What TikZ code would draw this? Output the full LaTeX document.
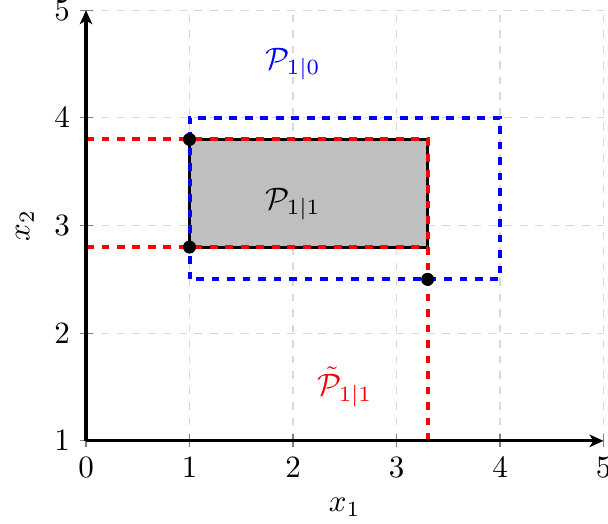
\documentclass[tikz,border=0pt]{standalone}
\usetikzlibrary{arrows.meta}
\begin{document}
\begin{tikzpicture}[x=33.4pt,y=34.74pt,
  gridline/.style={gray!30, line width=0.4pt, dash pattern=on 2.5pt off 2.5pt},
  axisline/.style={black, line width=1pt, -{Stealth[length=4.5pt,width=4pt,inset=1.2pt]}},
  tickmark/.style={gray, line width=0.4pt},
  bluebox/.style={blue, line width=1.3pt, dash pattern=on 2.5pt off 2.5pt},
  redline/.style={red, line width=1.3pt, dash pattern=on 2.5pt off 2.5pt},
  setbox/.style={fill=gray!50, draw=black, line width=1pt},
  dot/.style={circle, fill=black, inner sep=0pt, minimum size=4.2pt}]
\useasboundingbox (-0.831,0.229) rectangle (5.043,5.095);
% grid
\foreach \x in {1,...,5} \draw[gridline] (\x,1) -- (\x,5);
\foreach \y in {2,...,5} \draw[gridline] (0,\y) -- (5,\y);
% ticks
\foreach \x in {0,...,5} \draw[tickmark] ([yshift=-2.1pt]\x,1) -- ([yshift=2.1pt]\x,1);
\foreach \y in {1,...,5} \draw[tickmark] ([xshift=-2.1pt]0,\y) -- ([xshift=2.1pt]0,\y);
% tick labels
\foreach \x in {0,...,5} \node (xl\x) at (\x,0.75) {$\x$};
\foreach \y in {1,...,5} \node (yl\y) at (-0.232,\y) {$\y$};
% key points
\coordinate (O) at (0,1);
\coordinate (XE) at (5,1);
\coordinate (YE) at (0,5);
\coordinate (A) at (1,3.8);
\coordinate (B) at (1,2.8);
\coordinate (C) at (3.3,2.5);
\coordinate (D) at (3.3,3.8);
\coordinate (E) at (3.3,2.8);
\coordinate (F) at (3.3,1);
\coordinate (G) at (0,3.8);
\coordinate (H) at (0,2.8);
\coordinate (BL) at (1,2.5);
\coordinate (TR) at (4,4);
% sets
\draw[setbox] (B) rectangle (D);
\draw[bluebox] (BL) rectangle (TR);
\draw[redline] (G) -- (D) -- (F);
\draw[redline] (H) -- (E);
% axes
\draw[axisline] (O) -- (XE);
\draw[axisline] (O) -- (YE);
% dots
\node[dot] (dA) at (A) {};
\node[dot] (dB) at (B) {};
\node[dot] (dC) at (C) {};
% labels
\node[text=blue] (p10) at (2,4.5) {$\mathcal{P}_{1|0}$};
\node (p11) at (2,3.2) {$\mathcal{P}_{1|1}$};
\node[text=red] (pt11) at (2.5,1.5) {$\tilde{\mathcal{P}}_{1|1}$};
\node (xlab) at (2.5,0.38) {$x_1$};
\node[rotate=90] (ylab) at (-0.59,3) {$x_2$};
\end{tikzpicture}
\end{document}
